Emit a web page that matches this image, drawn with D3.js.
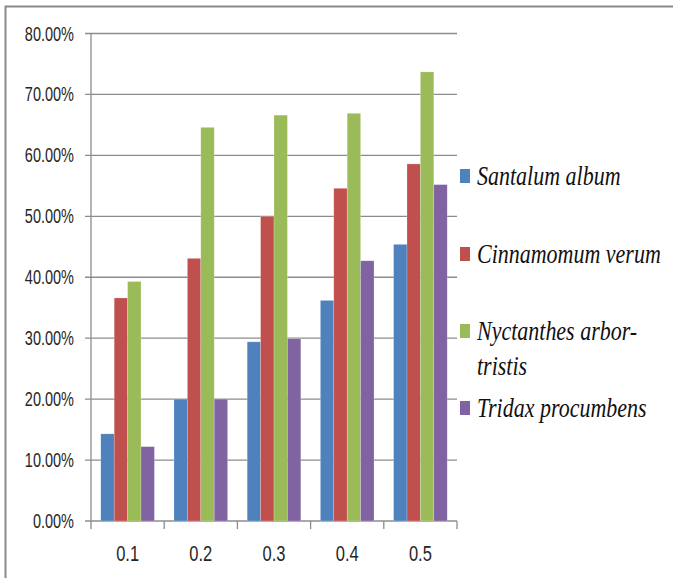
<!DOCTYPE html>
<html>
<head>
<meta charset="utf-8">
<script src="https://cdn.jsdelivr.net/npm/d3@7"></script>
<style>
  html, body { margin: 0; padding: 0; background: #fff; }
  svg { display: block; }
</style>
</head>
<body>
<svg id="chart" width="673" height="578"></svg>
<script>
// Concentrations on the x axis
const categories = ["0.1", "0.2", "0.3", "0.4", "0.5"];

// Species shown in the legend
const seriesNames = ["Santalum album", "Cinnamomum verum", "Nyctanthes arbor-tristis", "Tridax procumbens"];
const seriesColors = ["#4F81BD", "#C0504D", "#9BBB59", "#8064A2"];

// Values per species, one per concentration (fractions)
const santalum   = [0.143, 0.200, 0.294, 0.362, 0.454];
const cinnamomum = [0.366, 0.431, 0.500, 0.546, 0.586];
const nyctanthes = [0.393, 0.646, 0.666, 0.669, 0.737];
const tridax     = [0.122, 0.200, 0.299, 0.427, 0.552];

const yTicks = [0, 0.1, 0.2, 0.3, 0.4, 0.5, 0.6, 0.7, 0.8];

const seriesValues = [santalum, cinnamomum, nyctanthes, tridax];

const SANS = '"Liberation Sans", "DejaVu Sans", sans-serif';
const SERIF = '"Liberation Serif", "Times New Roman", serif';

const svg = d3.select("#chart");
const plot = { left: 91, right: 457, top: 33.5, bottom: 521 };

// Outer frame (top and left edges visible)
svg.append("path")
  .attr("d", "M5.5,578 V6.5 H673")
  .attr("fill", "none")
  .attr("stroke", "#8a8a8a")
  .attr("stroke-width", 2);

const x0 = d3.scaleBand().domain(categories).range([plot.left, plot.right]).paddingInner(0).paddingOuter(0);
const x1 = d3.scaleBand().domain(d3.range(seriesNames.length)).range([0, x0.bandwidth()]).paddingInner(0).paddingOuter(0.73);
const y = d3.scaleLinear().domain([0, 0.8]).range([plot.bottom, plot.top]);

// Stretched text helper: horizontal position, baseline, vertical scale
function label(parent, x, yPos, text, opts) {
  return parent.append("text")
    .attr("transform", `translate(${x},${yPos}) scale(1,${opts.sy})`)
    .attr("text-anchor", opts.anchor || "start")
    .style("font-family", opts.family)
    .style("font-style", opts.style || "normal")
    .style("font-size", opts.size + "px")
    .attr("fill", opts.fill || "#262626")
    .text(text);
}

// Horizontal gridlines with short ticks to the left of the axis
const grid = svg.append("g");
yTicks.forEach(t => {
  grid.append("line")
    .attr("x1", plot.left - 6).attr("x2", plot.right)
    .attr("y1", y(t)).attr("y2", y(t))
    .attr("stroke", "#8c8c8c").attr("stroke-width", 1.3);
});

// Y axis line
svg.append("line")
  .attr("x1", plot.left).attr("x2", plot.left)
  .attr("y1", plot.top).attr("y2", plot.bottom)
  .attr("stroke", "#8c8c8c").attr("stroke-width", 1.3);

// Bars
const groups = svg.append("g").selectAll("g")
  .data(categories)
  .join("g")
  .attr("transform", d => `translate(${x0(d)},0)`);

groups.selectAll("rect")
  .data((d, i) => seriesValues.map((vals, s) => ({ s, v: vals[i] })))
  .join("rect")
  .attr("x", d => x1(d.s))
  .attr("width", x1.bandwidth())
  .attr("y", d => y(d.v))
  .attr("height", d => y(0) - y(d.v))
  .attr("fill", d => seriesColors[d.s])
  .attr("stroke", "rgba(255,255,255,0.35)")
  .attr("stroke-width", 0.6);

// X axis ticks at category boundaries
const xTickPos = categories.map(c => x0(c)).concat([plot.right]);
xTickPos.forEach(px => {
  svg.append("line")
    .attr("x1", px).attr("x2", px)
    .attr("y1", plot.bottom).attr("y2", plot.bottom + 8)
    .attr("stroke", "#8c8c8c").attr("stroke-width", 1.3);
});

// Y tick labels
const pct = d3.format(".2%");
yTicks.forEach(t => {
  label(svg, 74, y(t) + 7, pct(t), { family: SANS, size: 14.5, sy: 1.35, anchor: "end" });
});

// X tick labels
categories.forEach(c => {
  label(svg, x0(c) + x0.bandwidth() / 2, 561, c, { family: SANS, size: 16.5, sy: 1.35, anchor: "middle" });
});

// Legend
const legendRows = [
  { lines: ["Santalum album"], base: 185 },
  { lines: ["Cinnamomum verum"], base: 263 },
  { lines: ["Nyctanthes arbor-", "tristis"], base: 340 },
  { lines: ["Tridax procumbens"], base: 417 }
];
const legend = svg.append("g");
legendRows.forEach((row, i) => {
  legend.append("rect")
    .attr("x", 460).attr("y", row.base - 16)
    .attr("width", 10).attr("height", 14)
    .attr("fill", seriesColors[i]);
  row.lines.forEach((ln, k) => {
    label(legend, 477, row.base + k * 35, ln, { family: SERIF, style: "italic", size: 22, sy: 1.2, fill: "#111" });
  });
});
</script>
</body>
</html>
